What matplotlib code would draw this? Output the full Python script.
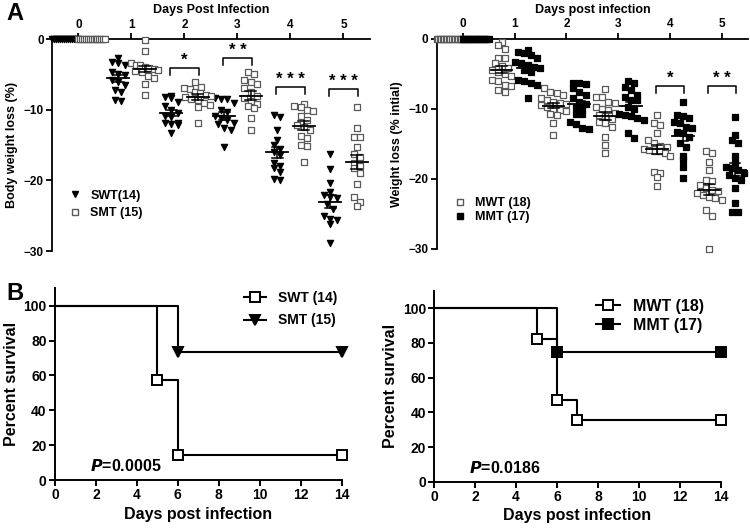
import numpy as np
import matplotlib
matplotlib.use("Agg")
import matplotlib.pyplot as plt
from matplotlib.lines import Line2D

plt.rcParams['font.family'] = ['Liberation Sans', 'DejaVu Sans']
plt.rcParams['font.weight'] = 'bold'

days = [0, 1, 2, 3, 4, 5]

# panel A, left: body weight loss (%) per mouse
swt = [
    [0.0] * 14,
    [-2.6, -3.2, -3.4, -3.6, -4.7, -4.9, -5.1, -5.8, -6.0, -6.5, -7.2, -7.4, -8.6, -8.7],
    [-8.1, -8.2, -8.3, -8.9, -9.5, -10.0, -10.4, -10.8, -11.0, -11.8, -11.9, -12.0, -12.1, -13.3],
    [-8.3, -8.4, -8.5, -9.0, -10.0, -10.3, -10.8, -11.2, -11.5, -11.8, -12.0, -12.5, -12.9, -15.2],
    [-10.7, -11.0, -12.9, -14.3, -15.0, -15.5, -16.0, -16.4, -17.5, -17.9, -18.3, -18.8, -19.8, -19.9],
    [-16.3, -18.4, -20.4, -21.7, -22.0, -22.3, -22.5, -23.3, -24.0, -25.0, -25.4, -25.6, -26.2, -28.9],
]
smt = [
    [0.0] * 15,
    [-0.1, -1.7, -3.4, -3.6, -3.7, -3.9, -4.0, -4.2, -4.3, -4.5, -4.6, -5.2, -5.5, -6.3, -7.9],
    [-6.0, -6.7, -6.9, -7.1, -7.4, -7.6, -7.9, -8.0, -8.2, -8.4, -8.6, -9.0, -9.3, -9.6, -11.8],
    [-4.7, -4.9, -5.8, -6.0, -6.3, -6.9, -7.5, -8.0, -8.3, -8.7, -9.1, -9.5, -9.8, -11.2, -12.9],
    [-9.2, -9.4, -9.6, -10.0, -10.2, -10.8, -11.5, -12.1, -12.4, -12.9, -13.7, -14.0, -15.0, -15.1, -17.4],
    [-9.6, -12.6, -13.8, -13.9, -15.3, -16.2, -16.7, -17.6, -18.0, -18.3, -19.0, -20.5, -22.4, -23.1, -23.6],
]

# panel A, right: weight loss (% initial) per mouse
mwt = [
    [0.0] * 18,
    [-0.4, -0.9, -1.4, -2.7, -2.8, -3.5, -3.9, -4.2, -4.5, -4.7, -5.0, -5.3, -5.9, -6.1, -6.6, -6.8, -7.3, -7.6],
    [-7.1, -7.6, -7.8, -8.0, -8.5, -8.8, -9.0, -9.2, -9.3, -9.5, -9.7, -10.0, -10.2, -10.4, -10.7, -10.9, -12.0, -13.8],
    [-7.2, -8.3, -8.4, -9.0, -9.2, -9.7, -10.0, -10.2, -10.6, -10.9, -11.1, -11.5, -11.9, -12.1, -12.6, -14.0, -15.2, -16.4],
    [-10.9, -12.1, -12.3, -13.5, -14.5, -14.9, -15.3, -15.5, -15.7, -15.9, -16.0, -16.1, -16.4, -16.8, -19.0, -19.2, -19.7, -21.1],
    [-16.1, -16.4, -17.6, -18.8, -20.2, -20.4, -20.9, -21.4, -21.6, -21.8, -22.1, -22.3, -22.6, -22.8, -23.0, -24.5, -25.4, -30.0],
]
mmt = [
    [0.0] * 17,
    [-1.6, -1.9, -2.1, -2.3, -2.8, -3.3, -3.5, -3.8, -4.0, -4.2, -4.5, -4.7, -5.9, -6.0, -6.4, -6.6, -8.5],
    [-6.3, -6.4, -6.5, -7.1, -7.6, -8.0, -8.5, -9.0, -9.3, -9.7, -10.0, -10.7, -10.8, -11.9, -12.2, -12.8, -12.9],
    [-6.1, -6.4, -6.9, -7.3, -8.0, -8.3, -8.7, -8.8, -9.7, -10.0, -10.7, -10.9, -11.1, -11.4, -11.6, -13.5, -14.2],
    [-9.0, -10.9, -11.1, -11.4, -11.9, -12.1, -12.6, -12.8, -13.3, -13.5, -14.0, -14.9, -15.5, -16.8, -17.3, -18.3, -19.9],
    [-11.2, -13.8, -14.5, -14.9, -16.8, -17.8, -18.3, -18.5, -18.8, -19.2, -19.5, -19.9, -20.2, -21.4, -23.5, -24.7, -24.8],
]

# significance marks: (day, label)
sig_left = [(2, '*'), (3, '* *'), (4, '* * *'), (5, '* * *')]
sig_left_y = [-4.1, -2.7, -6.8, -7.1]
sig_right = [(4, '*'), (5, '* *')]
sig_right_y = [-6.8, -6.8]

# panel B: Kaplan-Meier survival
swt_t, swt_s = [0, 5, 6, 14], [100, 57.1, 14.3, 14.3]
smt_t, smt_s = [0, 6, 14], [100, 73.3, 73.3]
mwt_t, mwt_s = [0, 5, 6, 7, 14], [100, 82.4, 47.1, 35.3, 35.3]
mmt_t, mmt_s = [0, 6, 14], [100, 75.0, 75.0]


def swarm(vals, center, step=0.12, maxw=0.25, bin_h=1.25):
    vals = np.asarray(vals, float)
    xs = np.full(len(vals), center, float)
    bins = np.round(vals / bin_h)
    for b in np.unique(bins):
        idx = np.where(bins == b)[0]
        n = len(idx)
        s = step
        if n > 1 and (n - 1) * step > 2 * maxw:
            s = 2 * maxw / (n - 1)
        xs[idx] = center + (np.arange(n) - (n - 1) / 2) * s
    return xs


def dotplot(ax, groups, off, marker, fc, ec, ms, lw=0.9):
    for d, vals in zip(days, groups):
        x = swarm(vals, d + off)
        ax.scatter(x, vals, marker=marker, s=ms, facecolors=fc, edgecolors=ec,
                   linewidths=lw, clip_on=False, zorder=3)
        if d == 0:
            continue
        m = np.mean(vals)
        se = np.std(vals, ddof=1) / np.sqrt(len(vals))
        ax.plot([d + off - 0.21, d + off + 0.21], [m, m], color='black', lw=1.3, zorder=4)
        ax.plot([d + off - 0.1, d + off + 0.1], [m + se, m + se], color='black', lw=1.1, zorder=4)
        ax.plot([d + off - 0.1, d + off + 0.1], [m - se, m - se], color='black', lw=1.1, zorder=4)
        ax.plot([d + off, d + off], [m - se, m + se], color='black', lw=1.1, zorder=4)


def brackets(ax, sigs, ys, off):
    for (d, lab), y in zip(sigs, ys):
        x0, x1 = d - off, d + off
        ax.plot([x0, x0, x1, x1], [y - 0.9, y, y, y - 0.9], color='black', lw=1.1, clip_on=False)
        ax.text((x0 + x1) / 2, y + 0.1, lab, ha='center', va='bottom', fontsize=12)


def style_a(ax, title, ylabel):
    ax.set_xlim(-0.5, 5.5)
    ax.set_ylim(-30, 0)
    for s in ['bottom', 'right']:
        ax.spines[s].set_visible(False)
    for s in ['top', 'left']:
        ax.spines[s].set_linewidth(1.3)
    ax.xaxis.set_ticks_position('top')
    ax.xaxis.set_label_position('top')
    ax.set_xticks(days)
    ax.set_yticks([0, -10, -20, -30])
    ax.tick_params(direction='out', length=4, width=1.3, labelsize=8.5, pad=2)
    ax.set_xlabel(title, fontsize=9, fontweight='bold', labelpad=4)
    ax.set_ylabel(ylabel, fontsize=9, fontweight='bold', labelpad=4)


fig = plt.figure(figsize=(7.5, 5.28), dpi=100)

# ---- A left
ax1 = fig.add_axes([0.0693, 0.5246, 0.424, 0.401])
dotplot(ax1, swt, -0.25, 'v', 'black', 'black', 20)
dotplot(ax1, smt, 0.25, 's', 'white', '#5a5a5a', 19)
brackets(ax1, sig_left, sig_left_y, 0.27)
style_a(ax1, 'Days Post Infection', 'Body weight loss (%)')
h1 = [Line2D([], [], ls='none', marker='v', mfc='black', mec='black', ms=4.5),
      Line2D([], [], ls='none', marker='s', mfc='white', mec='#5a5a5a', ms=4.5)]
ax1.legend(h1, ['SWT(14)', 'SMT (15)'], loc='upper left', bbox_to_anchor=(0.05, 0.29),
           frameon=False, fontsize=9, handlelength=1.2, handletextpad=0.6,
           labelspacing=0.45, borderaxespad=0, borderpad=0)

# ---- A right
ax2 = fig.add_axes([0.5823, 0.529, 0.415, 0.3977])
dotplot(ax2, mwt, -0.25, 's', 'white', '#5a5a5a', 19)
dotplot(ax2, mmt, 0.25, 's', 'black', 'black', 19)
brackets(ax2, sig_right, sig_right_y, 0.27)
style_a(ax2, 'Days post infection', 'Weight loss (% intial)')
h2 = [Line2D([], [], ls='none', marker='s', mfc='white', mec='#5a5a5a', ms=4.5),
      Line2D([], [], ls='none', marker='s', mfc='black', mec='black', ms=4.5)]
ax2.legend(h2, ['MWT (18)', 'MMT (17)'], loc='upper left', bbox_to_anchor=(0.05, 0.245),
           frameon=False, fontsize=9, handlelength=1.2, handletextpad=0.6,
           labelspacing=0.15, borderaxespad=0, borderpad=0)


def style_b(ax):
    ax.set_xlim(0, 14)
    ax.set_ylim(0, 110)
    for s in ['top', 'right']:
        ax.spines[s].set_visible(False)
    for s in ['bottom', 'left']:
        ax.spines[s].set_linewidth(1.4)
    ax.spines['bottom'].set_bounds(0, 14)
    ax.set_xticks(range(0, 15, 2))
    ax.set_yticks(range(0, 101, 20))
    ax.tick_params(direction='out', length=4, width=1.4, labelsize=10, pad=2)
    ax.set_xlabel('Days post infection', fontsize=11.5, fontweight='bold', labelpad=3)
    ax.set_ylabel('Percent survival', fontsize=11.5, fontweight='bold', labelpad=3)


def km(ax, t, s, marker, fc, ms):
    ax.plot(t, s, drawstyle='steps-post', color='black', lw=1.5, clip_on=False, zorder=2)
    ax.plot(t[1:], s[1:], ls='none', marker=marker, mfc=fc, mec='black', mew=1.4,
            ms=ms, clip_on=False, zorder=3)
    return Line2D([], [], color='black', lw=1.5, marker=marker, mfc=fc, mec='black',
                  mew=1.4, ms=ms)


# ---- B left
ax3 = fig.add_axes([0.0733, 0.0909, 0.3823, 0.3631])
l1 = km(ax3, swt_t, swt_s, 's', 'white', 7)
l2 = km(ax3, smt_t, smt_s, 'v', 'black', 6.5)
style_b(ax3)
ax3.legend([l1, l2], ['SWT (14)', 'SMT (15)'], loc='upper left', bbox_to_anchor=(0.66, 0.985),
           frameon=False, fontsize=10, handlelength=1.6, handletextpad=0.8,
           labelspacing=0.6, borderaxespad=0, borderpad=0)
ax3.text(1.7, 8, '$\\mathbfit{P}$=0.0005', fontsize=11.5, fontweight='bold', va='center')

# ---- B right
ax4 = fig.add_axes([0.579, 0.0877, 0.3819, 0.3613])
l3 = km(ax4, mwt_t, mwt_s, 's', 'white', 7)
l4 = km(ax4, mmt_t, mmt_s, 's', 'black', 7)
style_b(ax4)
ax4.legend([l3, l4], ['MWT (18)', 'MMT (17)'], loc='upper left', bbox_to_anchor=(0.565, 0.96),
           frameon=False, fontsize=11.5, handlelength=1.5, handletextpad=0.8,
           labelspacing=0.25, borderaxespad=0, borderpad=0)
ax4.text(1.7, 8, '$\\mathbfit{P}$=0.0186', fontsize=11.5, fontweight='bold', va='center')

fig.text(0.008, 0.975, 'A', fontsize=17, fontweight='bold', va='center')
fig.text(0.008, 0.445, 'B', fontsize=17, fontweight='bold', va='center')

fig.savefig('out.png', dpi=100)
